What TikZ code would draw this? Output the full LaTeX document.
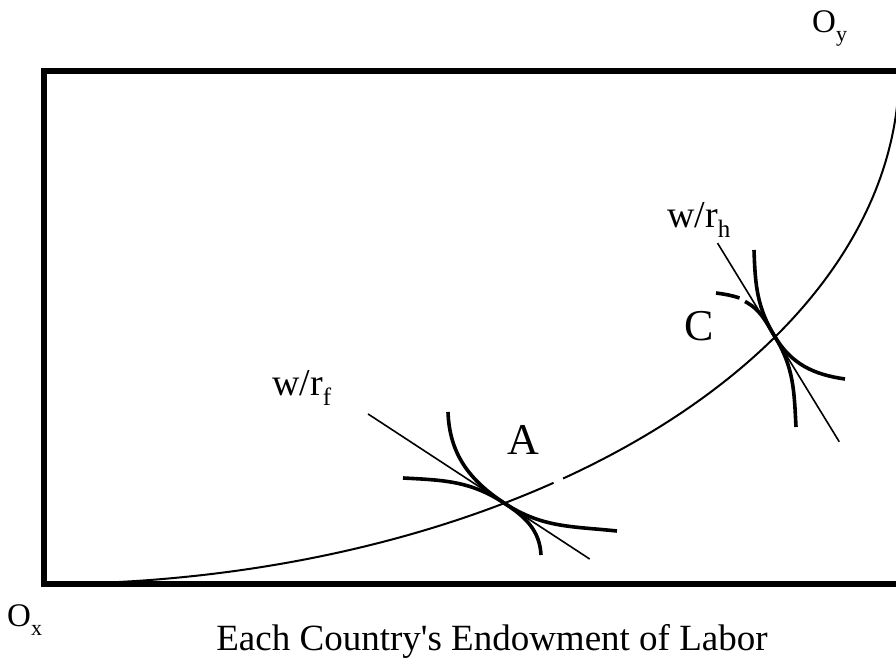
\documentclass[tikz,border=0pt]{standalone}
\usepackage{fontspec}
\setmainfont{Liberation Serif}
\usetikzlibrary{calc}

% lowered small text for the subscripts
\newcommand{\subtxt}[2]{\raisebox{-0.26em}{\fontsize{#1}{#1}\selectfont #2}}

\begin{document}
\begin{tikzpicture}[
  x=1pt, y=1pt,
  frame/.style   ={line width=6pt, line join=miter},
  contract/.style={line width=2pt},
  isoq/.style    ={line width=3.6pt},
  ratio/.style   ={line width=1.6pt},
  lbl/.style     ={inner sep=0pt, anchor=base west,
                   font=\fontsize{38}{42}\selectfont},
  big/.style     ={inner sep=0pt, anchor=base west,
                   font=\fontsize{44}{48}\selectfont},
  orig/.style    ={inner sep=0pt, anchor=base west,
                   font=\fontsize{33}{36}\selectfont}
]
\useasboundingbox (0,0) rectangle (896,658);
\clip (0,0) rectangle (896,658);

%% ---- Edgeworth box ----------------------------------------------------
\draw[frame] (43.5,74) rectangle (900,587);

%% ---- Contract curve (from O_x to O_y) ----------------------------------
\coordinate (ox) at (43.5,74);
\draw[contract] (ox) arc[start angle=270, end angle=306.6,
                         x radius=855.5, y radius=513];
\draw[contract] (563.1,179.5) arc[start angle=307.4, end angle=360,
                                  x radius=855.5, y radius=513];

%% ---- Point A ------------------------------------------------------------
\coordinate (A) at (504.4,154.8);
\draw[ratio] ($(A)+(146.8:163)$) -- ($(A)+(-33.2:102)$);
\draw[isoq] (448,246) to[out=-88, in=146.8] (A) to[out=-33.2, in=174] (617,127);
\draw[isoq] (403,180) to[out=-3, in=146.8] (A) to[out=-33.2, in=93] (541,103);

%% ---- Point C ------------------------------------------------------------
\coordinate (C) at (775,321.1);
\draw[ratio] ($(C)+(121.5:110)$) -- ($(C)+(-58.5:123)$);
\draw[isoq] (754,408) to[out=-88, in=121.5] (C) to[out=-58.5, in=172] (845,279);
\draw[isoq] (716,365) to[out=-8, in=162] (739.5,360);
\draw[isoq] (745,356.5) to[out=-28, in=121.5] (C) to[out=-58.5, in=93] (796,231);

%% ---- Labels -------------------------------------------------------------
\node[lbl]  (wrf)  at (272,262)   {w/r\subtxt{25}{f}};
\node[lbl]  (wrh)  at (667,430)   {w/r\subtxt{25}{h}};
\node[big]  (labA) at (507.5,203) {A};
\node[big]  (labC) at (684,317)   {C};
\node[orig] (labOx) at (7,31)     {O\subtxt{22}{x}};
\node[orig] (labOy) at (812,625)  {O\subtxt{22}{y}};
\node[inner sep=0pt, anchor=base, font=\fontsize{37}{40}\selectfont]
     (xlab) at (492,8) {Each Country\textquotesingle s Endowment of Labor};

\end{tikzpicture}
\end{document}
